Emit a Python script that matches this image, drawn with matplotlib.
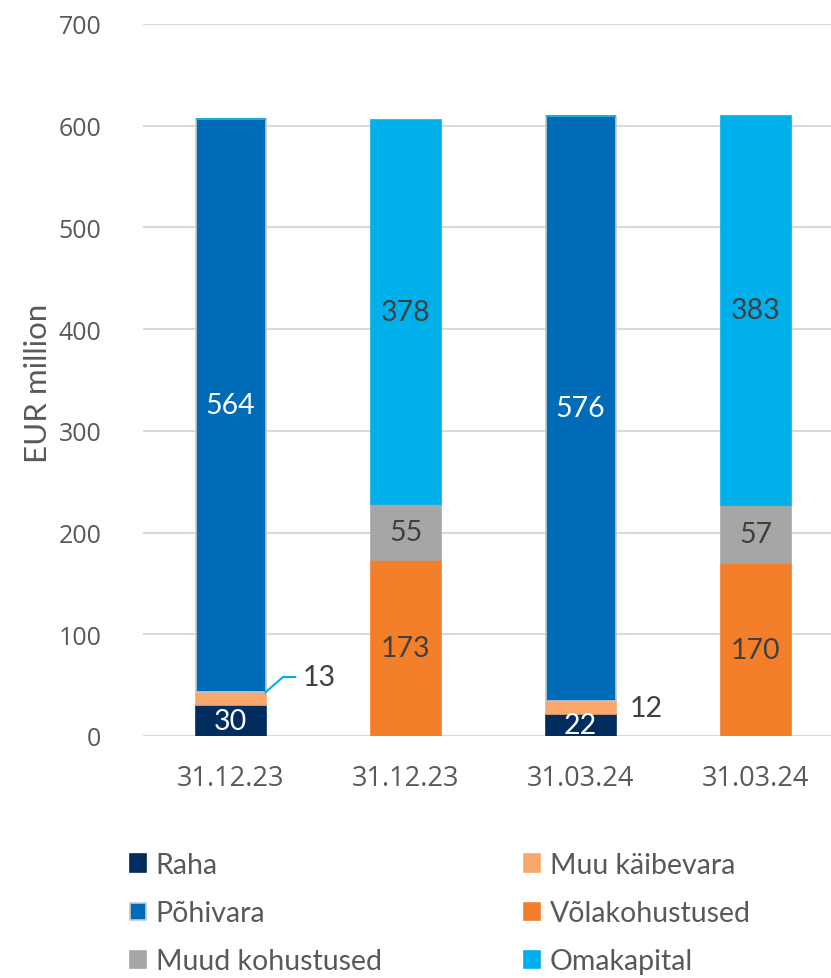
import matplotlib.pyplot as plt
from matplotlib.patches import Patch

# data
dates = ["31.12.23", "31.12.23", "31.03.24", "31.03.24"]
raha = [30, 0, 22, 0]
muu_kaibevara = [13, 0, 12, 0]
pohivara = [564, 0, 576, 0]
volakohustused = [0, 173, 0, 170]
muud_kohustused = [0, 55, 0, 57]
omakapital = [0, 378, 0, 383]

series = [
    ("Raha", raha, "#002d5e", "white"),
    ("Muu käibevara", muu_kaibevara, "#f9a86b", "#404040"),
    ("Põhivara", pohivara, "#006bb6", "white"),
    ("Võlakohustused", volakohustused, "#f47f2b", "#404040"),
    ("Muud kohustused", muud_kohustused, "#a6a6a6", "#404040"),
    ("Omakapital", omakapital, "#00b0ea", "#404040"),
]

lab_font = "Lato"
tick_font = "Open Sans"
txt = "#595959"

fig = plt.figure(figsize=(8.31, 9.79), dpi=100)
W, H = 831, 979
ax = fig.add_axes([143 / W, (H - 737) / H, 700 / W, 712 / H])

x = list(range(len(dates)))
bottom = [0] * len(dates)
for name, vals, col, tcol in series:
    ec = "#c8c8c8" if name == "Põhivara" else col
    ax.bar(x, vals, 0.4, bottom=bottom, color=col, edgecolor=ec,
           linewidth=1.2, zorder=3)
    for i, v in enumerate(vals):
        if v == 0 or name == "Muu käibevara":
            continue
        ax.text(i, bottom[i] + v / 2, str(v), ha="center", va="center",
                color=tcol, fontsize=20.5, family=lab_font, zorder=4)
    bottom = [b + v for b, v in zip(bottom, vals)]

# small labels outside the bars
ax.plot([0.2, 0.3, 0.37], [raha[0] + muu_kaibevara[0], 58, 58],
        color="#00b0ea", lw=1.5, zorder=4, clip_on=False)
ax.text(0.41, 58, str(muu_kaibevara[0]), ha="left", va="center",
        fontsize=20.5, family=lab_font, color="#404040")
ax.text(2.28, raha[2] + muu_kaibevara[2] / 2, str(muu_kaibevara[2]),
        ha="left", va="center", fontsize=20.5, family=lab_font, color="#404040")

ax.set_xlim(-0.5, 3.5)
ax.set_ylim(0, 700)
ax.set_yticks(range(0, 701, 100))
ax.set_xticks(x)
ax.set_xticklabels(dates, fontsize=19.5, family=tick_font, color=txt)
for t in ax.get_yticklabels():
    t.set_fontsize(18)
    t.set_family(tick_font)
    t.set_color(txt)
ax.tick_params(length=0, pad=30)
ax.tick_params(axis="x", pad=20)
ax.yaxis.grid(True, color="#d9d9d9", lw=1.5, zorder=0)
for s in ax.spines.values():
    s.set_visible(False)

fig.text(38 / W, 1 - 383 / H, "EUR million", rotation=90, ha="center",
         va="center", fontsize=22.5, family=lab_font, color=txt)

handles = {}
for name, vals, col, tcol in series:
    ec = "#c8c8c8" if name == "Põhivara" else col
    handles[name] = Patch(facecolor=col, edgecolor=ec, linewidth=1.2)

columns = [(130, ["Raha", "Põhivara", "Muud kohustused"]),
           (524, ["Muu käibevara", "Võlakohustused", "Omakapital"])]
for left, names in columns:
    fig.legend([handles[n] for n in names], names, loc="upper left",
               bbox_to_anchor=(left / W, 1 - 853 / H), frameon=False,
               borderpad=0, borderaxespad=0, handlelength=0.55,
               handleheight=0.55, handletextpad=0.35, labelspacing=0.78,
               prop={"family": lab_font, "size": 20.5}, labelcolor=txt)

fig.savefig("out.png", dpi=100)
